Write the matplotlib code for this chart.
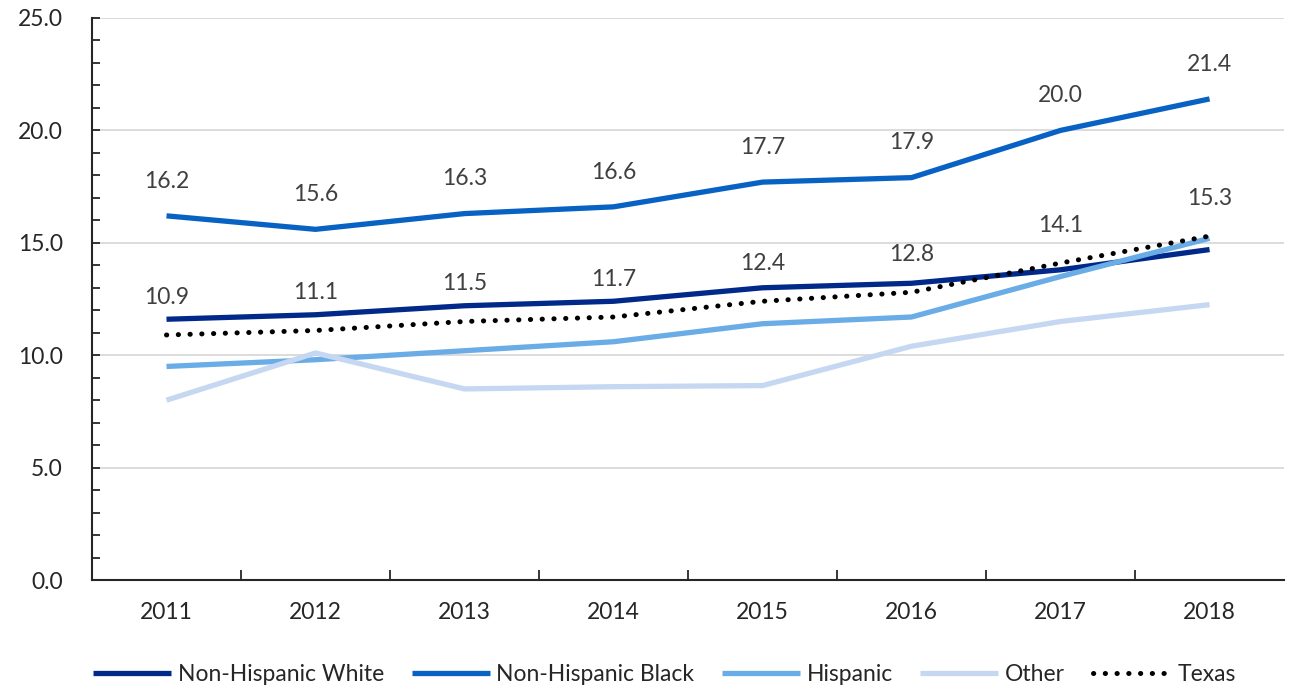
import matplotlib.pyplot as plt
from matplotlib.ticker import MultipleLocator, FixedLocator

plt.rcParams['font.family'] = ['Lato', 'DejaVu Sans']

years = ['2011', '2012', '2013', '2014', '2015', '2016', '2017', '2018']

nh_white = [11.6, 11.8, 12.2, 12.4, 13.0, 13.2, 13.8, 14.7]
nh_black = [16.2, 15.6, 16.3, 16.6, 17.7, 17.9, 20.0, 21.4]
hispanic = [9.5, 9.8, 10.2, 10.6, 11.4, 11.7, 13.5, 15.2]
other = [8.0, 10.1, 8.5, 8.6, 8.65, 10.4, 11.5, 12.25]
texas = [10.9, 11.1, 11.5, 11.7, 12.4, 12.8, 14.1, 15.3]

FS = 16.5


def plot_chart(save_path="out.png"):
    fig = plt.figure(figsize=(12.94, 6.87), dpi=100)
    ax = fig.add_axes([0.0711, 0.1557, 0.9212, 0.8181])
    x = list(range(len(years)))

    # Čáry jednotlivých skupin
    ax.plot(x, nh_white, color='#00298A', lw=3.8, label='Non-Hispanic White', solid_capstyle='butt')
    ax.plot(x, nh_black, color='#0862C3', lw=3.8, label='Non-Hispanic Black', solid_capstyle='butt')
    ax.plot(x, hispanic, color='#6AACE6', lw=3.8, label='Hispanic', solid_capstyle='butt')
    ax.plot(x, other, color='#C6D7F2', lw=3.8, label='Other', solid_capstyle='butt')
    ax.plot(x, texas, color='black', lw=3.6, linestyle=(0, (0.05, 2.3)),
            dash_capstyle='round', label='Texas')

    # Popisky hodnot
    for i in x:
        ax.annotate(f"{nh_black[i]:.1f}", (i, nh_black[i]), xytext=(0, 25),
                    textcoords='offset points', ha='center', va='center',
                    fontsize=FS, color='#404040')
        ax.annotate(f"{texas[i]:.1f}", (i, texas[i]), xytext=(0, 27),
                    textcoords='offset points', ha='center', va='center',
                    fontsize=FS, color='#404040')

    ax.set_xlim(-0.5, len(years) - 0.5)
    ax.set_ylim(0, 25)
    ax.yaxis.set_major_locator(MultipleLocator(5))
    ax.yaxis.set_minor_locator(MultipleLocator(1))
    ax.set_yticklabels([f"{v:.1f}" for v in ax.get_yticks()])
    ax.tick_params(axis='y', which='both', direction='in', length=6, width=1.3,
                   color='#262626', labelsize=FS, labelcolor='#262626', pad=21)

    ax.xaxis.set_major_locator(FixedLocator([i + 0.5 for i in range(len(years) - 1)]))
    ax.xaxis.set_minor_locator(FixedLocator(x))
    ax.set_xticklabels([], minor=False)
    ax.set_xticklabels(years, minor=True)
    ax.tick_params(axis='x', which='major', direction='in', length=7, width=1.3, color='#262626')
    ax.tick_params(axis='x', which='minor', length=0, labelsize=FS, labelcolor='#262626', pad=16)

    ax.grid(axis='y', which='major', color='#D9D9D9', lw=1.3)
    ax.set_axisbelow(True)
    for s in ['top', 'right']:
        ax.spines[s].set_visible(False)
    for s in ['left', 'bottom']:
        ax.spines[s].set_color('#262626')
        ax.spines[s].set_linewidth(1.5)

    fig.legend(loc='center', bbox_to_anchor=(0.5135, 0.018), ncol=5, frameon=False,
               fontsize=FS, handlelength=3.4, handletextpad=0.3, columnspacing=1.2,
               labelcolor='#262626')

    fig.savefig(save_path, dpi=100)
    plt.close(fig)


if __name__ == "__main__":
    plot_chart()
